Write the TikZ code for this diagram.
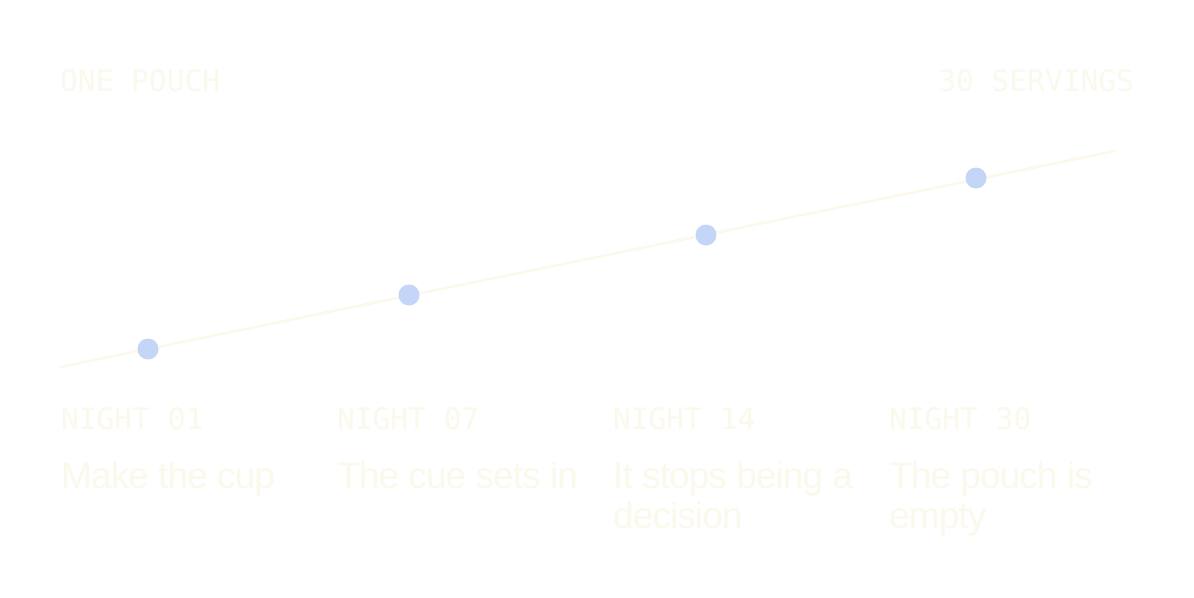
\documentclass[tikz,border=0pt]{standalone}
\usepackage{fontspec}
\setsansfont{Liberation Sans}[LetterSpace=-2.5]
\setmonofont{DejaVu Sans Mono}
\usepackage{tikz}
\usetikzlibrary{positioning,calc}
\definecolor{cream}{HTML}{FBF8EC}
\definecolor{paleline}{HTML}{FCF8EC}
\definecolor{dotblue}{HTML}{C3D6F7}

\begin{document}
\begin{tikzpicture}[x=1pt,y=-1pt,
   tag/.style={inner sep=0pt,text=cream,font=\ttfamily\fontsize{29.5}{30}\selectfont},
   caption/.style={inner sep=0pt,text=cream,align=left,
     font=\sffamily\fontsize{37}{40}\selectfont},
   stop/.style={circle,fill=dotblue,inner sep=0pt,minimum size=21pt}]
  \useasboundingbox[fill=white] (0,0) rectangle (1194,597);
  \node[tag,anchor=base west] (pouch) at (60,91) {ONE POUCH};
  \node[tag,anchor=base east] (servings) at (1134,91) {30 SERVINGS};
  % the path of the month
  \coordinate (start) at (60,367);
  \coordinate (finish) at (1115,151);
  \draw[paleline,line width=2.6pt] (start) -- (finish);
  \node[stop] (n1) at (148,349) {};
  \node[stop] (n7) at (409,295) {};
  \node[stop] (n14) at (706,235) {};
  \node[stop] (n30) at (976,178) {};
  % what each night brings
  \node[tag,anchor=base west] (t1) at (61,429) {NIGHT 01};
  \node[tag,anchor=base west] (t7) at (337,429) {NIGHT 07};
  \node[tag,anchor=base west] (t14) at (613,429) {NIGHT 14};
  \node[tag,anchor=base west] (t30) at (889,429) {NIGHT 30};
  \node[caption,anchor=base west] (c1) at (61,488) {Make the cup};
  \node[caption,anchor=base west] (c7) at (337,488) {The cue sets in};
  % two-line captions sit on their last line
  \node[caption,anchor=base west] (c14) at (613,528) {It stops being a\\decision};
  \node[caption,anchor=base west] (c30) at (889,528) {The pouch is\\empty};
\end{tikzpicture}
\end{document}
